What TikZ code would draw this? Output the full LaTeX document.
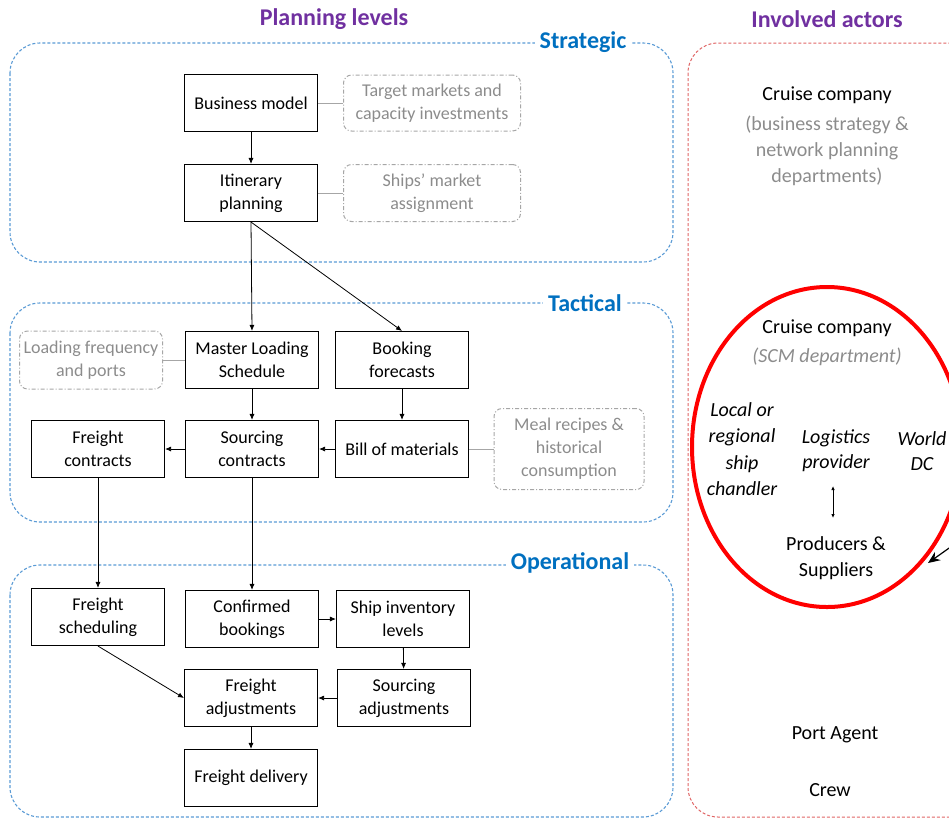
\documentclass[tikz,border=0pt]{standalone}
\usepackage{fontspec}
\setmainfont{Carlito}
\usetikzlibrary{arrows.meta}
\definecolor{purp}{HTML}{7030A0}
\definecolor{lblue}{HTML}{5B9BD5}
\definecolor{dblue}{HTML}{0070C0}
\definecolor{gtxt}{HTML}{8C8C8C}
\definecolor{gline}{HTML}{A6A6A6}
\definecolor{rdash}{HTML}{E06666}
\definecolor{bigred}{HTML}{FF0000}
\begin{document}
\begin{tikzpicture}[x=1pt,y=-1pt,
 stepbox/.style={draw, line width=1.1pt, minimum width=133pt, minimum height=57pt, align=center, inner sep=0pt, font=\fontsize{18}{23}\selectfont},
 note/.style={draw=gline, dash pattern=on 4pt off 2pt on 1pt off 2pt, rounded corners=8pt, line width=1pt, text=gtxt, align=center, inner sep=0pt, font=\fontsize{18}{23}\selectfont},
 level/.style={draw=lblue, dash pattern=on 3pt off 2pt, line width=1.1pt, rounded corners=30pt},
 levellabel/.style={fill=white, text=dblue, font=\fontsize{24}{28}\selectfont\bfseries, inner sep=5pt},
 title/.style={text=purp, font=\fontsize{24}{28}\selectfont\bfseries},
 arr/.style={-{Latex[length=6pt,width=5pt]}, line width=0.8pt},
 link/.style={draw=gline, line width=1pt},
 actor/.style={align=center, font=\fontsize{20}{26}\selectfont},
 actorit/.style={align=center, font=\fontsize{20}{26.5}\selectfont\itshape},
]
\useasboundingbox (0,0) rectangle (949,820);
\begin{scope}
\clip (0,0) rectangle (949,820);
% level frames
\draw[level] (10,43) rectangle (673,262);
\draw[level] (10,303) rectangle (673,522);
\draw[level] (10,565) rectangle (673,817);
\draw[rdash, dash pattern=on 3pt off 2pt, line width=1pt, rounded corners=30pt] (688,43) rectangle (985,817);
\draw[bigred, line width=4pt] (827,447) ellipse [x radius=135, y radius=160];
\end{scope}

\node[title] (tplan) at (334,19) {Planning levels};
\node[title] (tact) at (827,19) {Involved actors};
\node[levellabel] (lstr) at (583,42) {Strategic};
\node[levellabel] (ltac) at (585,303) {Tactical};
\node[levellabel] (lope) at (570,563) {Operational};

% strategic
\node[stepbox] (bm) at (251,103) {Business model};
\node[stepbox] (ip) at (251,193) {Itinerary\\planning};
\node[note, minimum width=177pt, minimum height=56pt] (tm) at (432,103) {Target markets and\\capacity investments};
\node[note, minimum width=177pt, minimum height=57pt] (sm) at (432,193) {Ships’ market\\assignment};

% tactical
\node[stepbox] (mls) at (252,360) {Master Loading\\Schedule};
\node[stepbox] (bf) at (402,360) {Booking\\forecasts};
\node[note, minimum width=143pt, minimum height=58pt] (lf) at (91,360) {Loading frequency\\and ports};
\node[stepbox] (sc) at (252,449) {Sourcing\\contracts};
\node[stepbox] (bom) at (402,449) {Bill of materials};
\node[stepbox] (fc) at (98,449) {Freight\\contracts};
\node[note, minimum width=150pt, minimum height=81pt] (mr) at (569,449) {Meal recipes \&\\historical\\consumption};

% operational
\node[stepbox] (fs) at (98,617) {Freight\\scheduling};
\node[stepbox] (cb) at (252,619) {Confirmed\\bookings};
\node[stepbox] (si) at (403,619) {Ship inventory\\levels};
\node[stepbox] (fa) at (251,698) {Freight\\adjustments};
\node[stepbox] (sa) at (404,698) {Sourcing\\adjustments};
\node[stepbox] (fd) at (251,778) {Freight delivery};

% links to notes
\draw[link] (bm) -- (tm);
\draw[link] (ip) -- (sm);
\draw[link] (lf) -- (mls);
\draw[link] (bom) -- (mr);

% arrows
\draw[arr] (bm) -- (ip);
\draw[arr] (ip.south) -- (mls.north);
\draw[arr] (ip.south) -- (bf.north);
\draw[arr] (mls) -- (sc);
\draw[arr] (bf) -- (bom);
\draw[arr] (bom) -- (sc);
\draw[arr] (sc) -- (fc);
\draw[arr] (fc) -- (fs);
\draw[arr] (sc) -- (cb);
\draw[arr] (cb) -- (si);
\draw[arr] (si) -- (sa);
\draw[arr] (sa) -- (fa);
\draw[arr] (fs.south) -- (fa.west);
\draw[arr] (fa) -- (fd);

% actors
\node[actor] (cc1) at (827,95) {Cruise company};
\node[actor, text=gtxt] (cc1d) at (827,151) {(business strategy \&\\network planning\\departments)};
\node[actor] (cc2) at (827,328) {Cruise company};
\node[actorit, text=gtxt] (cc2d) at (827,357) {(SCM department)};
\node[actorit] (loc) at (742,449) {Local or\\regional\\ship\\chandler};
\node[actorit, font=\fontsize{20}{25}\selectfont\itshape] (logi) at (836,451) {Logistics\\provider};
\node[actorit, font=\fontsize{20}{25}\selectfont\itshape] (wdc) at (922,451) {World\\DC};
\node[actor] (prod) at (836,558) {Producers \&\\Suppliers};
\node[actor] (pa) at (835,735) {Port Agent};
\node[actor] (crew) at (830,790) {Crew};
\draw[{Latex[length=4pt,width=3.5pt]}-{Latex[length=4pt,width=3.5pt]}, line width=0.8pt] (833,486) -- (833,518);
\coordinate (ext) at (952,546);
\coordinate (tip) at (928,563);
\draw[-{Stealth[length=12pt,width=10pt]}, line width=1.2pt] (ext) -- (tip);
\end{tikzpicture}
\end{document}
